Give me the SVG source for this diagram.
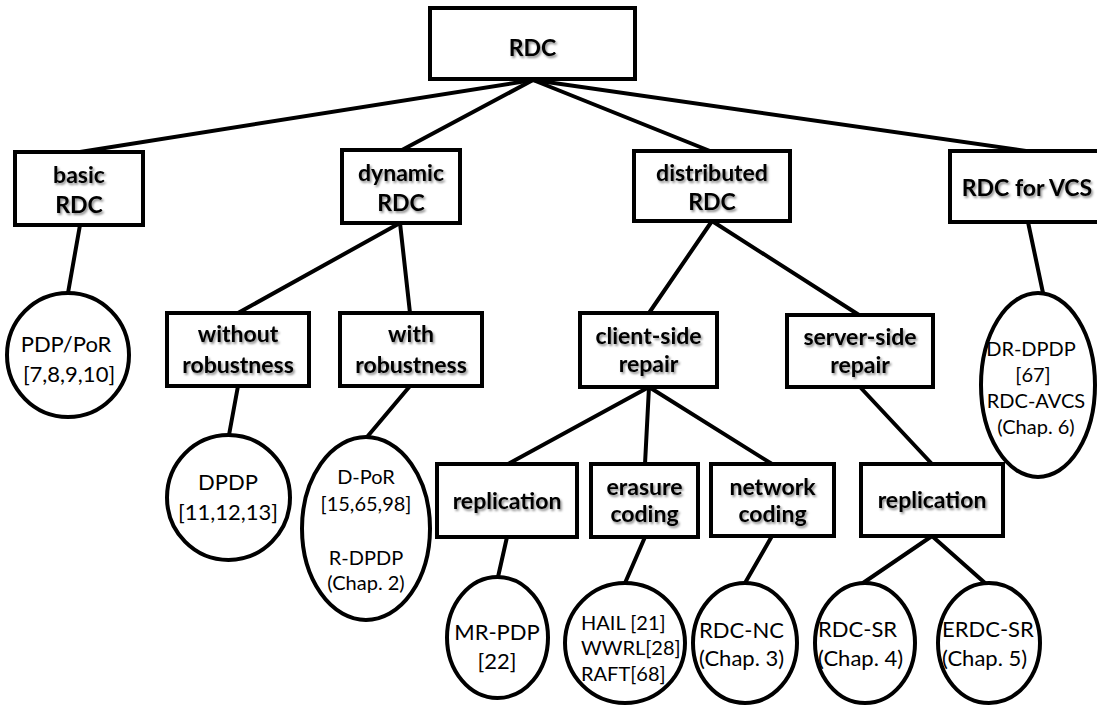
<svg xmlns="http://www.w3.org/2000/svg" width="1097" height="707" viewBox="0 0 1097 707">
  <defs>
    <filter id="soft-shadow" x="-10%" y="-30%" width="130%" height="170%">
      <feDropShadow dx="1.5" dy="2" stdDeviation="1.3" flood-color="#000" flood-opacity="0.45"/>
    </filter>
  </defs>
  <style>
    .edge { stroke: #000; stroke-width: 4; stroke-linecap: round; fill: none; }
    .box { fill: #fff; stroke: #000; stroke-width: 4; }
    .leaf { fill: #fff; stroke: #000; stroke-width: 4; }
    .lbl { font-family: Lato, "Open Sans", "Liberation Sans", sans-serif; font-weight: bold; font-size: 23px; text-anchor: middle; fill: #000; filter: url(#soft-shadow); }
    .ref { font-family: Lato, "Open Sans", "Liberation Sans", sans-serif; font-size: 22px; text-anchor: middle; fill: #000; }
    .ref.sm { font-size: 20px; }
    .ref.left { text-anchor: start; }
  </style>
  <rect width="1097" height="707" fill="#fff"/>

  <!-- tree edges -->
  <g id="connectors">
    <line class="edge" x1="533" y1="80" x2="80" y2="152"/>
    <line class="edge" x1="533" y1="80" x2="402" y2="150"/>
    <line class="edge" x1="533" y1="80" x2="710" y2="151"/>
    <line class="edge" x1="533" y1="80" x2="1026" y2="151"/>
    <line class="edge" x1="80" y1="225" x2="68" y2="293"/>
    <line class="edge" x1="400" y1="223" x2="238" y2="313"/>
    <line class="edge" x1="400" y1="223" x2="410" y2="313"/>
    <line class="edge" x1="238" y1="386" x2="229" y2="435"/>
    <line class="edge" x1="410" y1="386" x2="367" y2="437"/>
    <line class="edge" x1="712" y1="221" x2="649" y2="313"/>
    <line class="edge" x1="712" y1="221" x2="859" y2="315"/>
    <line class="edge" x1="1028" y1="222" x2="1043" y2="293"/>
    <line class="edge" x1="649" y1="387" x2="508" y2="464"/>
    <line class="edge" x1="649" y1="387" x2="645" y2="464"/>
    <line class="edge" x1="649" y1="387" x2="772" y2="464"/>
    <line class="edge" x1="860" y1="387" x2="932" y2="464"/>
    <line class="edge" x1="507" y1="537" x2="498" y2="577"/>
    <line class="edge" x1="645" y1="537" x2="625" y2="583"/>
    <line class="edge" x1="772" y1="536" x2="745" y2="583"/>
    <line class="edge" x1="932" y1="536" x2="863" y2="583"/>
    <line class="edge" x1="932" y1="536" x2="985" y2="583"/>
  </g>

  <!-- category boxes -->
  <g id="rdc">
    <rect class="box" x="430" y="8" width="205" height="71"/>
    <text class="lbl" x="532.5" y="56">RDC</text>
  </g>
  <g id="basic-rdc">
    <rect class="box" x="15" y="152" width="128" height="73"/>
    <text class="lbl" x="79" y="183">basic</text>
    <text class="lbl" x="79" y="213">RDC</text>
  </g>
  <g id="dynamic-rdc">
    <rect class="box" x="342" y="150" width="118" height="73"/>
    <text class="lbl" x="401" y="181">dynamic</text>
    <text class="lbl" x="401" y="211">RDC</text>
  </g>
  <g id="distributed-rdc">
    <rect class="box" x="634" y="151" width="156" height="70"/>
    <text class="lbl" x="712" y="181">distributed</text>
    <text class="lbl" x="712" y="210">RDC</text>
  </g>
  <g id="rdc-for-vcs">
    <rect class="box" x="950" y="151" width="152" height="71"/>
    <text class="lbl" x="1027" y="196">RDC for VCS</text>
  </g>
  <g id="without-robustness">
    <rect class="box" x="167" y="313" width="142" height="73"/>
    <text class="lbl" x="238" y="342">without</text>
    <text class="lbl" x="238" y="373">robustness</text>
  </g>
  <g id="with-robustness">
    <rect class="box" x="340" y="313" width="142" height="73"/>
    <text class="lbl" x="411" y="342">with</text>
    <text class="lbl" x="411" y="373">robustness</text>
  </g>
  <g id="client-side-repair">
    <rect class="box" x="580" y="313" width="137" height="74"/>
    <text class="lbl" x="648.5" y="344">client-side</text>
    <text class="lbl" x="648.5" y="372">repair</text>
  </g>
  <g id="server-side-repair">
    <rect class="box" x="787" y="315" width="146" height="72"/>
    <text class="lbl" x="860" y="345">server-side</text>
    <text class="lbl" x="860" y="373">repair</text>
  </g>
  <g id="client-replication">
    <rect class="box" x="437" y="464" width="140" height="73"/>
    <text class="lbl" x="507" y="509">replication</text>
  </g>
  <g id="erasure-coding">
    <rect class="box" x="591" y="464" width="107" height="73"/>
    <text class="lbl" x="644.5" y="495">erasure</text>
    <text class="lbl" x="644.5" y="522">coding</text>
  </g>
  <g id="network-coding">
    <rect class="box" x="711" y="464" width="123" height="72"/>
    <text class="lbl" x="772.5" y="495">network</text>
    <text class="lbl" x="772.5" y="522">coding</text>
  </g>
  <g id="server-replication">
    <rect class="box" x="861" y="464" width="142" height="72"/>
    <text class="lbl" x="932" y="508">replication</text>
  </g>

  <!-- schemes -->
  <g id="pdp-por">
    <ellipse class="leaf" cx="68" cy="355" rx="61" ry="62"/>
    <text class="ref" x="66" y="352">PDP/PoR</text>
    <text class="ref" x="69" y="382">[7,8,9,10]</text>
  </g>
  <g id="dpdp">
    <ellipse class="leaf" cx="228.5" cy="497.5" rx="61.5" ry="62.5"/>
    <text class="ref" x="228" y="490">DPDP</text>
    <text class="ref" x="228" y="520">[11,12,13]</text>
  </g>
  <g id="d-por">
    <ellipse class="leaf" cx="366" cy="528.5" rx="64" ry="91.5"/>
    <text class="ref sm" x="366" y="484">D-PoR</text>
    <text class="ref sm" x="366" y="511">[15,65,98]</text>
    <text class="ref sm" x="366" y="565">R-DPDP</text>
    <text class="ref sm" x="366" y="590">(Chap. 2)</text>
  </g>
  <g id="dr-dpdp">
    <ellipse class="leaf" cx="1038" cy="385" rx="57" ry="92"/>
    <text class="ref sm" x="1031" y="356">DR-DPDP</text>
    <text class="ref sm" x="1033" y="382">[67]</text>
    <text class="ref sm" x="1036" y="408">RDC-AVCS</text>
    <text class="ref sm" x="1036" y="434">(Chap. 6)</text>
  </g>
  <g id="mr-pdp">
    <ellipse class="leaf" cx="497.5" cy="637.5" rx="50.5" ry="60.5"/>
    <text class="ref" x="497" y="640">MR-PDP</text>
    <text class="ref" x="497" y="669">[22]</text>
  </g>
  <g id="hail-wwrl-raft">
    <ellipse class="leaf" cx="625" cy="643" rx="60" ry="60"/>
    <text class="ref sm left" x="581" y="630">HAIL [21]</text>
    <text class="ref sm left" x="581" y="655">WWRL[28]</text>
    <text class="ref sm left" x="581" y="681">RAFT[68]</text>
  </g>
  <g id="rdc-nc">
    <ellipse class="leaf" cx="745" cy="643" rx="52" ry="60"/>
    <text class="ref left" x="699" y="638">RDC-NC</text>
    <text class="ref left" x="699" y="666">(Chap. 3)</text>
  </g>
  <g id="rdc-sr">
    <ellipse class="leaf" cx="865" cy="643" rx="50" ry="60"/>
    <text class="ref left" x="818" y="637">RDC-SR</text>
    <text class="ref left" x="818" y="666">(Chap. 4)</text>
  </g>
  <g id="erdc-sr">
    <ellipse class="leaf" cx="989" cy="643" rx="51" ry="60"/>
    <text class="ref left" x="942" y="637">ERDC-SR</text>
    <text class="ref left" x="942" y="666">(Chap. 5)</text>
  </g>
</svg>
